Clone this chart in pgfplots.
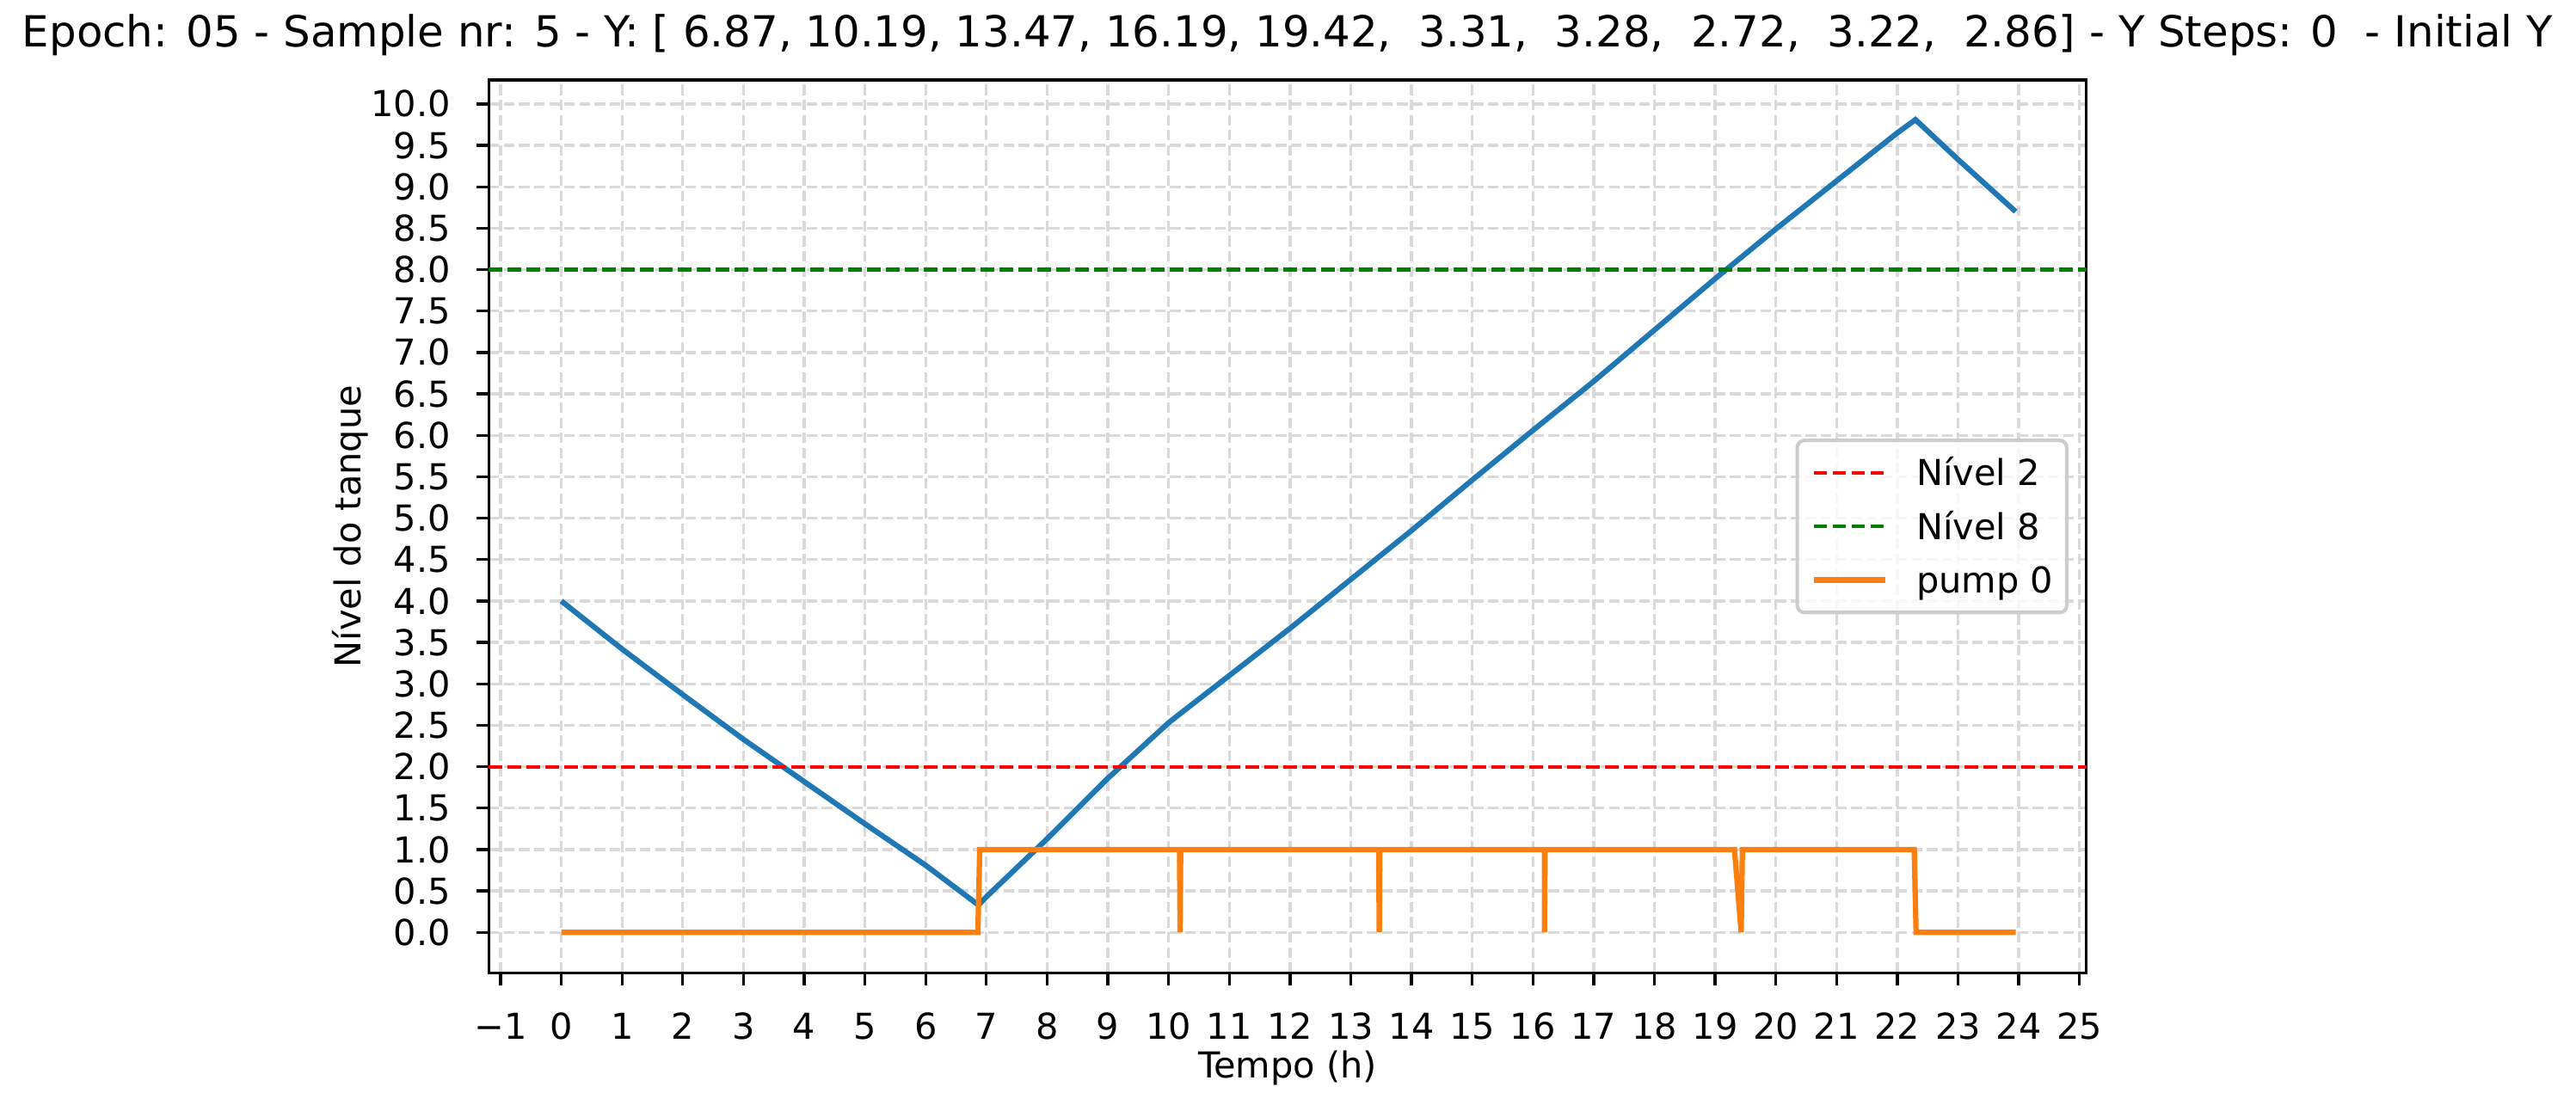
\documentclass[border=0pt]{standalone}
\usepackage{fontspec}
\setmainfont{DejaVu Sans}
\usepackage{pgfplots}
\pgfplotsset{compat=1.18}
\definecolor{mplblue}{HTML}{1F77B4}
\definecolor{mplorange}{HTML}{FF7F0E}
\definecolor{mplgreen}{HTML}{008000}
\definecolor{mplred}{HTML}{FF0000}
\definecolor{gridgray}{gray}{0.85}
\definecolor{legendgray}{gray}{0.8}
\begin{document}
\begin{tikzpicture}
\begin{axis}[
  at={(0,0)}, anchor=south west,
  scale only axis, width=447.5pt, height=250.2pt,
  xmin=-1.196, xmax=25.116, ymin=-0.49, ymax=10.29,
  xtick={-1,0,1,2,3,4,5,6,7,8,9,10,11,12,13,14,15,16,17,18,19,20,21,22,23,24,25},
  xticklabels={−1,0,1,2,3,4,5,6,7,8,9,10,11,12,13,14,15,16,17,18,19,20,21,22,23,24,25},
  ytick={0,0.5,1,1.5,2,2.5,3,3.5,4,4.5,5,5.5,6,6.5,7,7.5,8,8.5,9,9.5,10},
  yticklabels={0.0,0.5,1.0,1.5,2.0,2.5,3.0,3.5,4.0,4.5,5.0,5.5,6.0,6.5,7.0,7.5,8.0,8.5,9.0,9.5,10.0},
  /pgf/number format/assume math mode=true,
  tick align=outside, major tick length=3.5pt,
  every tick/.style={black, line width=0.8pt},
  axis line style={line width=0.8pt, black},
  xtick pos=bottom, ytick pos=left,
  grid=major,
  major grid style={gridgray, line width=0.8pt, dash pattern=on 2.96pt off 1.28pt},
  xticklabel style={font=\fontsize{10}{12}\selectfont, anchor=base, inner sep=0pt, yshift=-15.06pt},
  yticklabel style={font=\fontsize{10}{12}\selectfont, anchor=east, inner sep=0pt, xshift=-7pt},
  xlabel={Tempo (h)},
  xlabel style={at={(axis description cs:0.5,0)}, anchor=base, inner sep=0pt, yshift=-29.27pt, font=\fontsize{10}{12}\selectfont},
  ylabel={Nível do tanque},
  ylabel style={at={([xshift=-35.7pt]axis description cs:0,0.5)}, anchor=base, rotate=0, inner sep=0pt, font=\fontsize{10}{12}\selectfont},
  every axis title shift=0pt,
  title={Epoch: 05 - Sample nr: 5 - Y: [ 6.87, 10.19, 13.47, 16.19, 19.42,\ \ 3.31,\ \ 3.28,\ \ 2.72,\ \ 3.22,\ \ 2.86] - Y Steps: 0\ \ - Initial Y},
  title style={at={(axis description cs:0.5,1)}, anchor=base, inner sep=0pt, yshift=9.2pt, font=\fontsize{12}{14.4}\selectfont},
  legend style={at={(axis description cs:1,0.5)}, anchor=east, xshift=-5pt,
    draw=legendgray, line width=1pt, rounded corners=2pt, fill=white, fill opacity=0.8, text opacity=1, draw opacity=1,
    font=\fontsize{10}{12}\selectfont, inner xsep=3.84pt, inner ysep=4.5pt, row sep=5.8pt,
    nodes={inner sep=0pt, text height=8.2pt, text depth=1pt},
    cells={anchor=west},
    /tikz/every odd column/.style={column sep=8pt}},
  legend image code/.code={\draw[#1] (0pt,0pt) -- (20pt,0pt);},
]
\addplot[mplblue, line width=1.5pt, forget plot] coordinates {
(0,4.00) (1,3.42) (2,2.87) (3,2.33) (4,1.82) (5,1.31) (6,0.81) (6.87,0.33)
(7,0.43) (8,1.13) (9,1.86) (10,2.53) (10.19,2.64) (11,3.10) (12,3.67) (13,4.26)
(14,4.85) (15,5.46) (16,6.06) (17,6.65) (18,7.27) (19,7.89) (20,8.49) (21,9.07)
(22,9.65) (22.3,9.81) (23,9.33) (23.95,8.70)};
\addplot[mplred, line width=1pt, dash pattern=on 3.7pt off 1.6pt] coordinates {(-1.196,2) (25.116,2)};
\addlegendentry{Nível 2}
\addplot[mplgreen, line width=1pt, dash pattern=on 3.7pt off 1.6pt] coordinates {(-1.196,8) (25.116,8)};
\addlegendentry{Nível 8}
\addplot[mplorange, line width=1.5pt] coordinates {
(0,0) (6.86,0) (6.89,1) (10.18,1) (10.19,0) (10.20,1) (13.46,1) (13.47,0) (13.48,1)
(16.19,1) (16.19,0) (16.20,1) (19.32,1) (19.43,0) (19.45,1) (22.28,1) (22.31,0) (23.95,0)};
\addlegendentry{pump 0}
\end{axis}
\pgfresetboundingbox
\path ([shift={(-136.88pt,-38.66pt)}]current axis.south west) rectangle ([shift={(584.62pt,272.58pt)}]current axis.south west);
\end{tikzpicture}
\end{document}
